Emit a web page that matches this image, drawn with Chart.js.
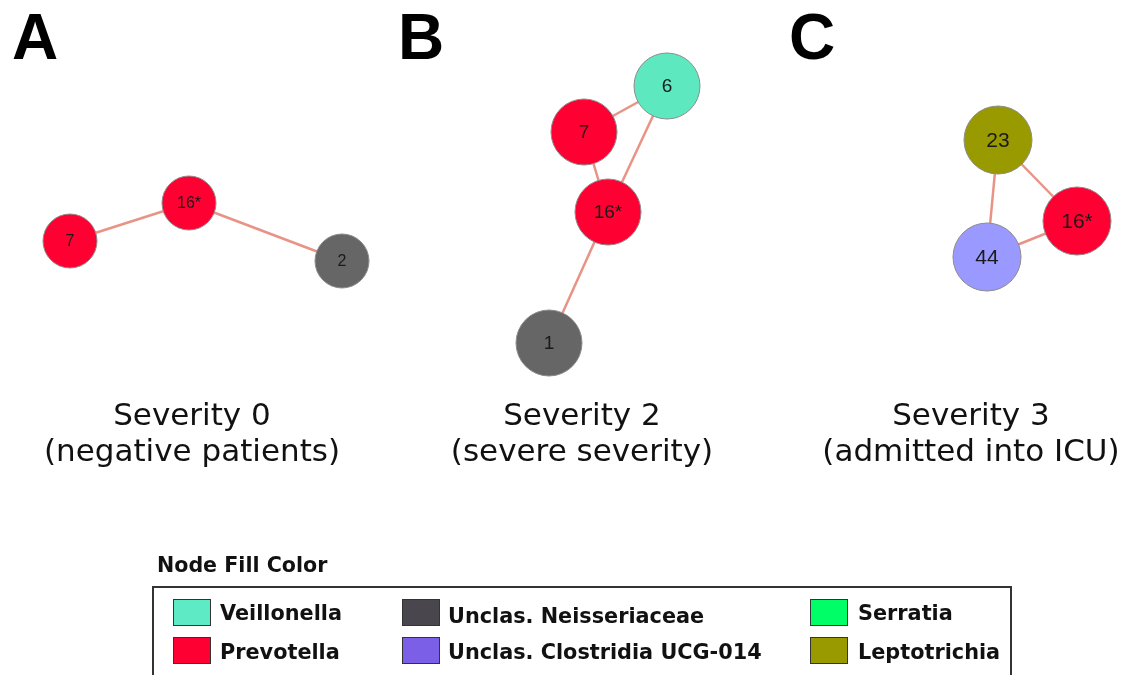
<!DOCTYPE html>
<html>
<head>
<meta charset="utf-8">
<script src="https://cdn.jsdelivr.net/npm/chart.js@4.4.1/dist/chart.umd.min.js"></script>
<style>
  html, body { margin: 0; padding: 0; background: #fff; }
  #wrap { position: relative; width: 1131px; height: 675px; overflow: hidden; background: #fff; }
  #net { position: absolute; left: 0; top: 0; }
  .panel-letter { position: absolute; top: 5px; font: bold 64px "Liberation Sans", Arial, sans-serif; line-height: 64px; color: #000; }
  .caption { position: absolute; top: 396px; width: 400px; text-align: center; font: 31px "DejaVu Sans", Verdana, sans-serif; line-height: 36px; color: #111; }
  .legend-title { position: absolute; left: 157px; top: 555px; font: bold 20.6px "DejaVu Sans", Verdana, sans-serif; line-height: 20px; color: #111; }
  .legend-box { position: absolute; left: 152px; top: 586px; width: 856px; height: 120px; border: 2px solid #333; }
  .sw { position: absolute; width: 36px; height: 25px; border: 1px solid #333; }
  .lbl { position: absolute; font: bold 20.8px "DejaVu Sans", Verdana, sans-serif; line-height: 20px; color: #111; white-space: nowrap; }
</style>
</head>
<body>
<div id="wrap">
  <canvas id="net" width="1131" height="675"></canvas>
</div>
<script>
  // ── DATA ────────────────────────────────────────────────
  const panelNames    = ['A', 'B', 'C'];
  const captionLine1  = ['Severity 0', 'Severity 2', 'Severity 3'];
  const captionLine2  = ['(negative patients)', '(severe severity)', '(admitted into ICU)'];

  // nodes (layout coordinates of the network picture)
  const nodeLabels = ['7', '16*', '2',   '6', '7', '16*', '1',   '23', '16*', '44'];
  const nodePanel  = [0, 0, 0,           1, 1, 1, 1,             2, 2, 2];
  const nodeGenus  = ['Prevotella', 'Prevotella', 'Unclas. Neisseriaceae',
                      'Veillonella', 'Prevotella', 'Prevotella', 'Unclas. Neisseriaceae',
                      'Leptotrichia', 'Prevotella', 'Unclas. Clostridia UCG-014'];
  const nodeX      = [70, 189, 342,      667, 584, 608, 549,     998, 1077, 987];
  const nodeY      = [241, 203, 261,     86, 132, 212, 343,      140, 221, 257];

  // edges as pairs of node indices
  const edgeFrom = [0, 1,   3, 3, 4, 5,   7, 7, 9];
  const edgeTo   = [1, 2,   4, 5, 5, 6,   8, 9, 8];

  // legend
  const legendGenus = ['Veillonella', 'Prevotella', 'Unclas. Neisseriaceae',
                       'Unclas. Clostridia UCG-014', 'Serratia', 'Leptotrichia'];

  // ── STYLE ───────────────────────────────────────────────
  const LEGEND_COLOR = {
    'Veillonella':                '#5eeac4',
    'Prevotella':                 '#ff0033',
    'Unclas. Neisseriaceae':      '#4a464e',
    'Unclas. Clostridia UCG-014': '#7b5fe6',
    'Serratia':                   '#00ff66',
    'Leptotrichia':               '#999900',
  };
  const NODE_COLOR = {
    'Veillonella':                '#5ee8c0',
    'Prevotella':                 '#ff0033',
    'Unclas. Neisseriaceae':      '#666666',
    'Unclas. Clostridia UCG-014': '#9999ff',
    'Leptotrichia':               '#999900',
  };
  const PANEL_RADIUS  = [27, 33, 34];
  const PANEL_FONT    = [16, 19, 21];
  const PANEL_LEFT    = [12, 398, 789];
  const CAPTION_CX    = [192, 582, 971];
  const EDGE_COLOR    = 'rgba(228,128,112,0.85)';

  // ── HTML TEXT ───────────────────────────────────────────
  const wrap = document.getElementById('wrap');
  function addDiv(cls, text, css) {
    const d = document.createElement('div');
    d.className = cls;
    if (text !== null) d.textContent = text;
    Object.assign(d.style, css || {});
    wrap.appendChild(d);
    return d;
  }

  panelNames.forEach((p, i) => {
    addDiv('panel-letter', p, { left: PANEL_LEFT[i] + 'px' });
    const c = addDiv('caption', null, { left: (CAPTION_CX[i] - 200) + 'px' });
    const l1 = document.createElement('div'); l1.textContent = captionLine1[i];
    const l2 = document.createElement('div'); l2.textContent = captionLine2[i];
    c.appendChild(l1); c.appendChild(l2);
  });

  addDiv('legend-title', 'Node Fill Color');
  addDiv('legend-box', null);
  const colSwX  = [173, 402, 810];
  const colTxtX = [220, 448, 858];
  const rowSwY  = [599, 637];
  const rowTxtY = [603, 642];
  legendGenus.forEach((g, i) => {
    const col = Math.floor(i / 2), row = i % 2;
    addDiv('sw', null, { left: colSwX[col] + 'px', top: rowSwY[row] + 'px', background: LEGEND_COLOR[g] });
    addDiv('lbl', g, { left: colTxtX[col] + 'px', top: (rowTxtY[row] + (col === 1 && row === 0 ? 3 : 0)) + 'px' });
  });

  // ── CHART ───────────────────────────────────────────────
  const nodePoints = nodeX.map((x, i) => ({ x, y: nodeY[i] }));

  const edgeSets = edgeFrom.map((a, i) => ({
    type: 'scatter',
    data: [nodePoints[a], nodePoints[edgeTo[i]]],
    showLine: true,
    borderColor: EDGE_COLOR,
    borderWidth: 2.5,
    pointRadius: 0,
    pointHoverRadius: 0,
    fill: false,
    order: 1,
    clip: false,
  }));

  const nodeSet = {
    type: 'scatter',
    data: nodePoints,
    pointRadius: ctx => PANEL_RADIUS[nodePanel[ctx.dataIndex]],
    pointHoverRadius: ctx => PANEL_RADIUS[nodePanel[ctx.dataIndex]],
    pointBackgroundColor: ctx => NODE_COLOR[nodeGenus[ctx.dataIndex]],
    pointBorderColor: '#8c8c8c',
    pointBorderWidth: 1,
    order: 0,
    clip: false,
  };

  const nodeLabelPlugin = {
    id: 'nodeLabels',
    afterDatasetsDraw(chart) {
      const meta = chart.getDatasetMeta(0);
      const ctx = chart.ctx;
      ctx.save();
      ctx.fillStyle = '#1a1a1a';
      ctx.textAlign = 'center';
      ctx.textBaseline = 'middle';
      meta.data.forEach((el, i) => {
        ctx.font = PANEL_FONT[nodePanel[i]] + 'px "Liberation Sans", Arial, sans-serif';
        ctx.fillText(nodeLabels[i], el.x, el.y + 1);
      });
      ctx.restore();
    }
  };

  new Chart(document.getElementById('net').getContext('2d'), {
    type: 'scatter',
    data: { datasets: [nodeSet, ...edgeSets] },
    options: {
      responsive: false,
      maintainAspectRatio: false,
      animation: false,
      events: [],
      layout: { padding: 0, autoPadding: false },
      plugins: { legend: { display: false }, tooltip: { enabled: false } },
      scales: {
        x: { type: 'linear', min: 0, max: 1131, display: false },
        y: { type: 'linear', min: 0, max: 675, reverse: true, display: false },
      }
    },
    plugins: [nodeLabelPlugin]
  });
</script>
</body>
</html>
